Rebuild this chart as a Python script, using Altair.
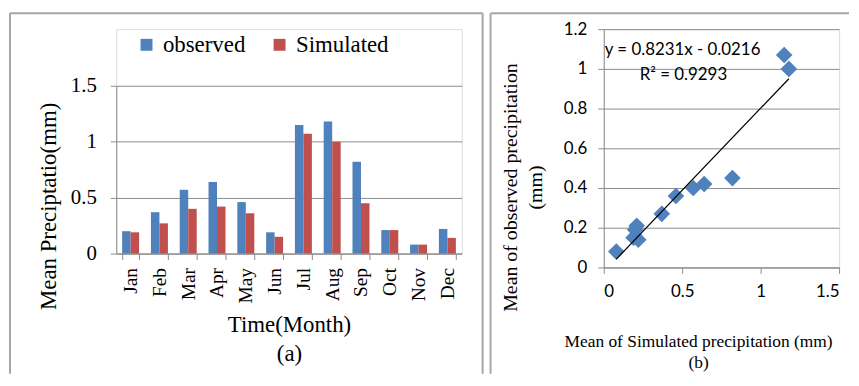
import altair as alt
import pandas as pd

months = ["Jan", "Feb", "Mar", "Apr", "May", "Jun", "Jul", "Aug", "Sep", "Oct", "Nov", "Dec"]
observed = [0.20, 0.37, 0.57, 0.64, 0.46, 0.19, 1.15, 1.18, 0.82, 0.21, 0.08, 0.22]
simulated = [0.19, 0.27, 0.40, 0.42, 0.36, 0.15, 1.07, 1.00, 0.45, 0.21, 0.08, 0.14]
series = ["observed", "Simulated"]
y_ticks_a = [0, 0.5, 1, 1.5]
x_ticks_b = [0, 0.5, 1, 1.5]
y_ticks_b = [0, 0.2, 0.4, 0.6, 0.8, 1.0, 1.2]
equation = "y = 0.8231x - 0.0216"
r_squared = "R² = 0.9293"

BLUE = "#4F81BD"
RED = "#C0504D"
GRID = "#8C8C8C"
BORDER = "#A6A6A6"
SERIF = "Liberation Serif"
SANS = "Lato"

# ---------- panel (a) ----------
long = pd.DataFrame({
    "month": months * 2,
    "series": [series[0]] * 12 + [series[1]] * 12,
    "value": observed + simulated,
})

W_A, H_A = 348, 226          # view is taller; bar area uses the lower part
Y_TOP_A = 57                 # pixel where 1.5 sits inside the view

bars = alt.Chart(long).mark_bar().encode(
    x=alt.X("month:N", sort=months,
            scale=alt.Scale(paddingInner=0.41, paddingOuter=0.205),
            axis=alt.Axis(title=["Time(Month)", "(a)"], labelAngle=270,
                          labelFont=SERIF, labelFontSize=19.5, labelColor="black",
                          labelPadding=8, tickBand="extent", tickSize=6,
                          tickColor=GRID, domainColor=GRID, grid=False,
                          titleFont=SERIF, titleFontSize=23, titleFontWeight="normal",
                          titleColor="black", titleX=174, titleY=60,
                          titleBaseline="top", titleAlign="center", titleLineHeight=30)),
    xOffset=alt.XOffset("series:N", sort=series),
    y=alt.Y("value:Q", scale=alt.Scale(domain=[0, 1.5], range=[H_A, Y_TOP_A]),
            axis=alt.Axis(values=y_ticks_a, format="~g", title="Mean Preciptatio(mm)",
                          labelFont=SERIF, labelFontSize=21, labelColor="black",
                          labelPadding=14, tickSize=6, tickColor=GRID,
                          domainColor=GRID, gridColor=GRID, grid=True,
                          titleFont=SERIF, titleFontSize=23, titleFontWeight="normal",
                          titleColor="black", titleAngle=270, titleX=-68, titleY=178,
                          titleBaseline="middle", titleAlign="center")),
    color=alt.Color("series:N", sort=series,
                    scale=alt.Scale(domain=series, range=[BLUE, RED]),
                    legend=alt.Legend(title=None, orient="none", legendX=19, legendY=4,
                                      direction="horizontal", symbolType="square",
                                      symbolSize=144, symbolStrokeWidth=0,
                                      labelFont=SERIF, labelFontSize=23, labelColor="black",
                                      columnPadding=22, labelOffset=5)),
)

one = pd.DataFrame({"k": [0]})
border_a = alt.layer(
    alt.Chart(one).mark_rule(color=BORDER, strokeWidth=2).encode(
        x=alt.value(-107), x2=alt.value(369), y=alt.value(-16)),
    alt.Chart(one).mark_rule(color=BORDER, strokeWidth=2).encode(
        x=alt.value(-107), y=alt.value(-16), y2=alt.value(347)),
    alt.Chart(one).mark_rule(color=BORDER, strokeWidth=2).encode(
        x=alt.value(369), y=alt.value(-16), y2=alt.value(347)),
)

panel_a = alt.layer(bars, border_a).properties(width=W_A, height=H_A)

# ---------- panel (b) ----------
W_B, H_B = 237, 240
pts = pd.DataFrame({"obs": observed, "sim": simulated})

x_b = alt.X("obs:Q", scale=alt.Scale(domain=[0, 1.5]),
            axis=alt.Axis(values=x_ticks_b, format="~g",
                          title=["Mean of Simulated precipitation (mm)", "(b)"],
                          labelFont=SANS, labelFontSize=17, labelColor="black",
                          labelPadding=10, tickSize=6, tickColor=GRID,
                          domainColor=GRID, grid=False,
                          titleFont=SERIF, titleFontSize=17.5, titleFontWeight="normal",
                          titleColor="black", titleX=95, titleY=66,
                          titleBaseline="top", titleAlign="center", titleLineHeight=21))
y_b = alt.Y("sim:Q", scale=alt.Scale(domain=[0, 1.2]),
            axis=alt.Axis(values=y_ticks_b, format="~g",
                          title=["Mean of observed precipitation", "(mm)"],
                          labelFont=SANS, labelFontSize=17, labelColor="black",
                          labelPadding=11, tickSize=6, tickColor=GRID,
                          domainColor=GRID, gridColor=GRID, grid=True,
                          titleFont=SERIF, titleFontSize=20, titleFontWeight="normal",
                          titleColor="black", titleAngle=270, titleX=-94, titleY=159,
                          titleBaseline="middle", titleAlign="center", titleLineHeight=25))

points = alt.Chart(pts).mark_point(shape="diamond", filled=True, size=280,
                                   color=BLUE, opacity=1).encode(x=x_b, y=y_b)
trend = alt.Chart(pts).transform_regression("obs", "sim").mark_line(
    color="black", strokeWidth=1.2).encode(x=x_b, y=y_b)

ann = pd.DataFrame({"obs": [0.006, 0.229], "sim": [1.095, 0.97], "t": [equation, r_squared]})
labels = alt.Chart(ann).mark_text(font=SANS, fontSize=17, align="left",
                                  baseline="middle", color="black").encode(
    x=x_b, y=y_b, text="t:N")

border_b = alt.layer(
    alt.Chart(one).mark_rule(color=BORDER, strokeWidth=2).encode(
        x=alt.value(-114), x2=alt.value(247), y=alt.value(-16)),
    alt.Chart(one).mark_rule(color=BORDER, strokeWidth=2).encode(
        x=alt.value(-114), y=alt.value(-16), y2=alt.value(347)),
)

panel_b = alt.layer(points, trend, labels, border_b).properties(width=W_B, height=H_B)

chart = alt.hconcat(panel_a, panel_b, spacing=4).resolve_legend(
    color="independent").properties(
    padding={"left": 0, "top": 2, "right": 0, "bottom": 0}
).configure_view(stroke=None).configure(background="white")

chart.save("out.html", embed_options={"renderer": "svg", "actions": False})
